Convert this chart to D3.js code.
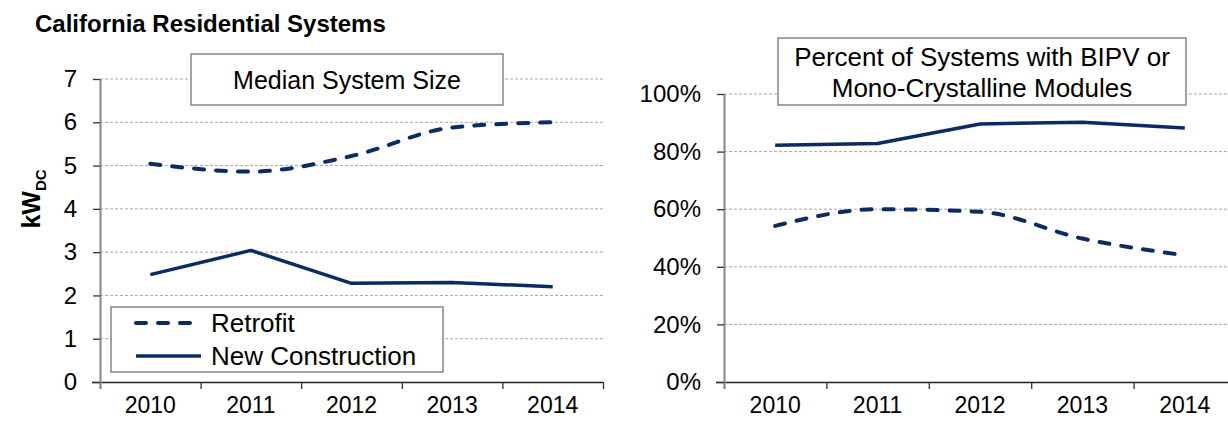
<!DOCTYPE html>
<html>
<head>
<meta charset="utf-8">
<title>California Residential Systems</title>
<style>
body { margin: 0; background: #fff; }
svg { display: block; font-family: Arial, "Liberation Sans", sans-serif; }
</style>
<script src="https://d3js.org/d3.v7.min.js"></script>
</head>
<body>
<svg id="chart" width="1228" height="421"></svg>
<script>
// data
const years = ["2010", "2011", "2012", "2013", "2014"];
const retrofitSize = [5.04, 4.86, 5.22, 5.88, 6.0];
const newConstSize = [2.48, 3.04, 2.28, 2.30, 2.20];
const retrofitMono = [54.2, 60.0, 59.1, 49.8, 44.0];
const newConstMono = [82.2, 82.8, 89.6, 90.2, 88.2];
const sizeTicks = [0, 1, 2, 3, 4, 5, 6, 7];
const pctTicks = [0, 20, 40, 60, 80, 100];
const seriesNames = ["Retrofit", "New Construction"];

const NAVY = "#0b2b62";
const GRID = "#a6a6a6";
const AXIS_GRAY = "#868686";
const FONT = "Arial, 'Liberation Sans', sans-serif";

const svg = d3.select("#chart");

svg.append("text")
    .attr("x", 35).attr("y", 32)
    .style("font-weight", "bold").style("font-size", "24px")
    .text("California Residential Systems");

function panel(opts) {
    const g = svg.append("g");
    const x = d3.scaleBand().domain(years).range([opts.left, opts.right]);
    const xEdge = d3.scaleLinear().domain([0, years.length]).range([opts.left, opts.right]);
    const y = d3.scaleLinear().domain(opts.domain).range([opts.bottom, opts.top]);

    // gridlines
    g.selectAll("line.grid")
        .data(opts.ticks.filter(t => t > opts.domain[0]))
        .enter().append("line")
        .attr("x1", opts.left).attr("x2", opts.right)
        .attr("y1", d => y(d)).attr("y2", d => y(d))
        .style("stroke", GRID).style("stroke-width", 1)
        .style("stroke-dasharray", "3,2");

    // series
    const dashed = d3.line()
        .x((d, i) => x(years[i]) + x.bandwidth() / 2)
        .y(d => y(d))
        .curve(d3.curveMonotoneX);
    const solid = d3.line()
        .x((d, i) => x(years[i]) + x.bandwidth() / 2)
        .y(d => y(d));

    g.append("path").attr("d", dashed(opts.dashed))
        .style("fill", "none").style("stroke", NAVY).style("stroke-width", 4)
        .style("stroke-dasharray", "10,12").style("stroke-linecap", "round");
    g.append("path").attr("d", solid(opts.solid))
        .style("fill", "none").style("stroke", NAVY).style("stroke-width", 3.5)
        .style("stroke-linejoin", "round");

    // x axis: boundary ticks + centred labels
    const xTicks = g.append("g").attr("transform", `translate(0,${opts.bottom})`)
        .call(d3.axisBottom(xEdge).tickValues(d3.range(years.length + 1)).tickFormat("").tickSize(7));
    xTicks.select(".domain").attr("d", `M${opts.left - 8},0.5H${opts.right}`)
        .style("stroke", "#222").style("stroke-width", 1.3);
    xTicks.selectAll(".tick line").style("stroke", "#333").style("stroke-width", 1.3);

    const xLabels = g.append("g").attr("transform", `translate(0,${opts.bottom})`)
        .call(d3.axisBottom(x).tickSize(0).tickPadding(15));
    xLabels.select(".domain").remove();
    xLabels.selectAll("text").style("font-size", "23px").style("fill", "#000")
        .style("font-family", FONT);

    // y axis
    const yAxis = g.append("g").attr("transform", `translate(${opts.left},0)`)
        .call(d3.axisLeft(y).tickValues(opts.ticks).tickFormat(opts.fmt).tickSize(7).tickPadding(16));
    yAxis.select(".domain").attr("d", `M0.5,${opts.top}V${opts.bottom + 7}`)
        .style("stroke", AXIS_GRAY).style("stroke-width", 2);
    yAxis.selectAll(".tick line").style("stroke", "#333").style("stroke-width", 1.3);
    yAxis.selectAll("text").style("font-size", "24px").style("fill", "#000")
        .style("font-family", FONT);

    // title box
    const tb = opts.titleBox;
    g.append("rect").attr("x", tb.x).attr("y", tb.y).attr("width", tb.w).attr("height", tb.h)
        .style("fill", "#fff").style("stroke", AXIS_GRAY).style("stroke-width", 1.5);
    g.append("g").selectAll("text")
        .data(tb.lines).enter().append("text")
        .attr("x", tb.x + tb.w / 2)
        .attr("y", (d, i) => tb.baseline + i * tb.lineGap)
        .attr("text-anchor", "middle")
        .style("font-size", tb.size)
        .text(d => d);
    return g;
}

panel({
    left: 100, right: 603, top: 79, bottom: 382,
    domain: [0, 7], ticks: sizeTicks, fmt: d3.format("d"),
    dashed: retrofitSize, solid: newConstSize,
    titleBox: { x: 191, y: 54, w: 312, h: 51, baseline: 89, lineGap: 0, size: "25px",
                lines: ["Median System Size"] }
});

panel({
    left: 724, right: 1236, top: 94, bottom: 382,
    domain: [0, 100], ticks: pctTicks, fmt: d => d + "%",
    dashed: retrofitMono, solid: newConstMono,
    titleBox: { x: 778, y: 38, w: 408, h: 67, baseline: 66, lineGap: 31, size: "26px",
                lines: ["Percent of Systems with BIPV or", "Mono-Crystalline Modules"] }
});

// y axis title kW_DC
const yTitle = svg.append("text")
    .attr("transform", "translate(40,199) rotate(-90)")
    .attr("text-anchor", "middle")
    .style("font-weight", "bold").style("font-size", "25px");
yTitle.append("tspan").text("kW");
yTitle.append("tspan").attr("dy", 6).style("font-size", "15px").text("DC");

// legend
const legend = svg.append("g");
legend.append("rect").attr("x", 111).attr("y", 307).attr("width", 332).attr("height", 65)
    .style("fill", "#fff").style("stroke", AXIS_GRAY).style("stroke-width", 1.5);
const legendRows = legend.selectAll("g.row").data(seriesNames).enter().append("g")
    .attr("transform", (d, i) => `translate(0,${323 + i * 33})`);
legendRows.append("line")
    .attr("x1", 136).attr("x2", 201).attr("y1", 0).attr("y2", 0)
    .style("stroke", NAVY).style("stroke-width", (d, i) => i === 0 ? 4 : 3.5)
    .style("stroke-dasharray", (d, i) => i === 0 ? "10,12" : null)
    .style("stroke-linecap", (d, i) => i === 0 ? "round" : "butt");
legendRows.append("text")
    .attr("x", 211).attr("y", 9)
    .style("font-size", "26px")
    .text(d => d);
</script>
</body>
</html>
